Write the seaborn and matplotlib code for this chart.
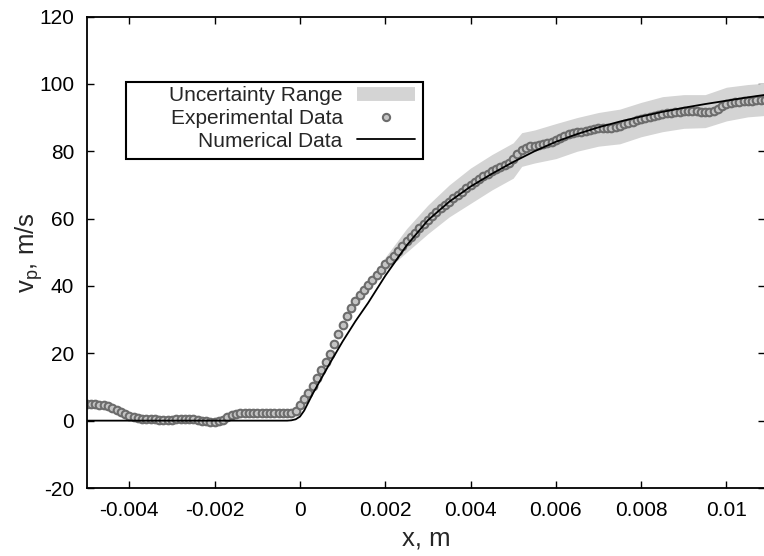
import numpy as np
import pandas as pd
import matplotlib
matplotlib.use("Agg")
import matplotlib.pyplot as plt
import seaborn as sns
from matplotlib.lines import Line2D
from matplotlib.patches import Rectangle

# ---------------- data ----------------
exp_x = [round(-0.005 + 0.0001 * i, 4) for i in range(160)]
exp_v = [
    # -0.0050 .. -0.0001
    4.8, 4.8, 4.8, 4.7, 4.6, 4.3, 3.8, 3.2, 2.6, 2.0,
    1.5, 1.1, 0.8, 0.6, 0.5, 0.4, 0.4, 0.3, 0.3, 0.3,
    0.3, 0.4, 0.5, 0.6, 0.6, 0.5, 0.3, 0.0, -0.2, -0.3,
    -0.3, -0.2, 0.3, 1.0, 1.6, 2.0, 2.2, 2.3, 2.3, 2.3,
    2.3, 2.3, 2.3, 2.3, 2.3, 2.3, 2.3, 2.3, 2.4, 3.0,
    # 0.0000 .. 0.0049
    4.5, 6.3, 8.3, 10.4, 12.6, 14.9, 17.3, 19.9, 22.7, 25.6,
    28.4, 31.0, 33.3, 35.4, 37.2, 38.9, 40.4, 41.8, 43.2, 44.8,
    46.4, 47.7, 49.0, 50.4, 51.8, 53.2, 54.5, 55.8, 57.1, 58.4,
    59.6, 60.8, 62.0, 63.1, 64.1, 65.0, 66.0, 67.0, 68.0, 69.0,
    70.0, 71.0, 71.8, 72.6, 73.3, 74.0, 74.6, 75.2, 75.8, 76.6,
    # 0.0050 .. 0.0099
    77.8, 79.3, 80.5, 81.1, 81.4, 81.6, 81.8, 82.0, 82.3, 82.8,
    83.4, 84.0, 84.6, 85.0, 85.3, 85.6, 85.8, 86.1, 86.4, 86.6,
    86.8, 86.8, 86.8, 86.9, 87.1, 87.5, 88.0, 88.4, 88.8, 89.2,
    89.6, 90.0, 90.3, 90.6, 90.8, 91.0, 91.2, 91.4, 91.6, 91.7,
    91.8, 91.8, 91.8, 91.8, 91.7, 91.7, 91.7, 92.0, 92.6, 93.3,
    # 0.0100 .. 0.0109
    93.9, 94.3, 94.5, 94.7, 94.8, 94.9, 95.0, 95.1, 95.2, 95.3,
]

num_x = [-0.005, -0.0003, -0.0002, -0.0001, 0.0, 0.0001, 0.0002, 0.0003,
         0.0005, 0.0007, 0.001, 0.0013, 0.0016, 0.002, 0.0025, 0.003,
         0.0035, 0.004, 0.0045, 0.005, 0.0055, 0.006, 0.0065, 0.007,
         0.0075, 0.008, 0.0085, 0.009, 0.0095, 0.010, 0.0105, 0.011]
num_v = [0.0, 0.0, 0.1, 0.4, 1.2, 3.0, 5.5, 8.0,
         12.5, 17.0, 23.5, 29.5, 35.0, 43.0, 52.0, 59.5,
         65.0, 69.5, 73.3, 76.8, 80.0, 82.8, 85.1, 87.1,
         88.8, 90.3, 91.7, 92.9, 94.0, 95.0, 96.0, 96.9]

band_x = [0.0016, 0.002, 0.0025, 0.003, 0.0035, 0.004, 0.0045, 0.005,
          0.0052, 0.0055, 0.006, 0.0065, 0.007, 0.0075, 0.008, 0.0085,
          0.009, 0.0095, 0.010, 0.0105, 0.0109]
band_lo = [39.8, 44.5, 50.0, 55.5, 60.5, 64.5, 68.5, 72.0,
           75.5, 76.5, 77.8, 80.0, 81.5, 82.2, 84.3, 85.8,
           86.8, 87.0, 89.0, 90.2, 90.6]
band_hi = [40.8, 48.5, 57.0, 64.0, 70.0, 75.0, 79.0, 82.5,
           85.5, 86.3, 88.2, 90.0, 91.5, 92.5, 94.5, 96.2,
           96.8, 96.8, 99.0, 99.8, 100.2]

x_ticks = [-0.004, -0.002, 0.0, 0.002, 0.004, 0.006, 0.008, 0.01]
x_tick_labels = ["-0.004", "-0.002", "0", "0.002", "0.004", "0.006", "0.008", "0.01"]
y_ticks = [-20, 0, 20, 40, 60, 80, 100, 120]
y_tick_labels = ["-20", "0", "20", "40", "60", "80", "100", "120"]

labels = ["Uncertainty Range", "Experimental Data", "Numerical Data"]

# ---------------- style ----------------
sns.set_style("ticks")
plt.rcParams["font.family"] = ["Liberation Sans", "DejaVu Sans"]
plt.rcParams["mathtext.fontset"] = "custom"
plt.rcParams["mathtext.rm"] = "Liberation Sans"
plt.rcParams["mathtext.it"] = "Liberation Sans"

W, H = 764, 556
fig = plt.figure(figsize=(W / 100, H / 100), dpi=100)
left, right_px, top, bottom = 86.7, 765.0, 16.5, 488.0
ax = fig.add_axes([left / W, (H - bottom) / H, (right_px - left) / W, (bottom - top) / H])


def ax_xy(px, py):
    return ((px - left) / (right_px - left), (bottom - py) / (bottom - top))


exp_df = pd.DataFrame({"x": exp_x, "v": exp_v})
num_df = pd.DataFrame({"x": num_x, "v": num_v})

band_color = "#d4d4d4"
mfc, mec = "#c4c4c4", "#6c6c6c"
ax.fill_between(band_x, band_lo, band_hi, color=band_color, linewidth=0, zorder=1)

sns.scatterplot(data=exp_df, x="x", y="v", ax=ax, marker="o", s=30,
                facecolor=mfc, edgecolor=mec, linewidth=1.5,
                zorder=2, legend=False)
sns.lineplot(data=num_df, x="x", y="v", ax=ax, color="black", linewidth=1.3,
             zorder=3, legend=False)

ax.set_xlim(-0.005, -0.005 + (0.002 / 85.3) * (right_px - left))
ax.set_ylim(-20, 120)
ax.set_xticks(x_ticks)
ax.set_xticklabels(x_tick_labels)
ax.set_yticks(y_ticks)
ax.set_yticklabels(y_tick_labels)

ax.tick_params(direction="in", length=5, width=1.0, top=True, right=True,
               labelsize=15, colors="black", pad=9)
for s in ax.spines.values():
    s.set_linewidth(1.3)
    s.set_color("black")

ax.set_xlabel("x, m", fontsize=18.5, labelpad=5)
ax.set_ylabel(r"v$_{\mathrm{p}}$, m/s", fontsize=18.5, labelpad=-4)

# legend box (gnuplot-style, wider than its content)
x0, y0 = ax_xy(126, 159)
x1, y1 = ax_xy(423, 82)
ax.add_patch(Rectangle((x0, y0), x1 - x0, y1 - y0, transform=ax.transAxes,
                       facecolor="white", edgecolor="black", linewidth=1.5,
                       zorder=4))

handles = [
    Line2D([0], [0], color=band_color, linewidth=10, solid_capstyle="butt"),
    Line2D([0], [0], linestyle="none", marker="o", markersize=5.2,
           markerfacecolor=mfc, markeredgecolor=mec, markeredgewidth=1.5),
    Line2D([0], [0], color="black", linewidth=1.3),
]
leg = ax.legend(handles, labels, loc="center right",
                bbox_to_anchor=ax_xy(415, 118.5),
                markerfirst=False, fontsize=15, frameon=False,
                handlelength=2.8, handletextpad=0.67, borderpad=0,
                labelspacing=0.17, borderaxespad=0)
leg.set_zorder(5)

fig.savefig("out.png", dpi=100)
